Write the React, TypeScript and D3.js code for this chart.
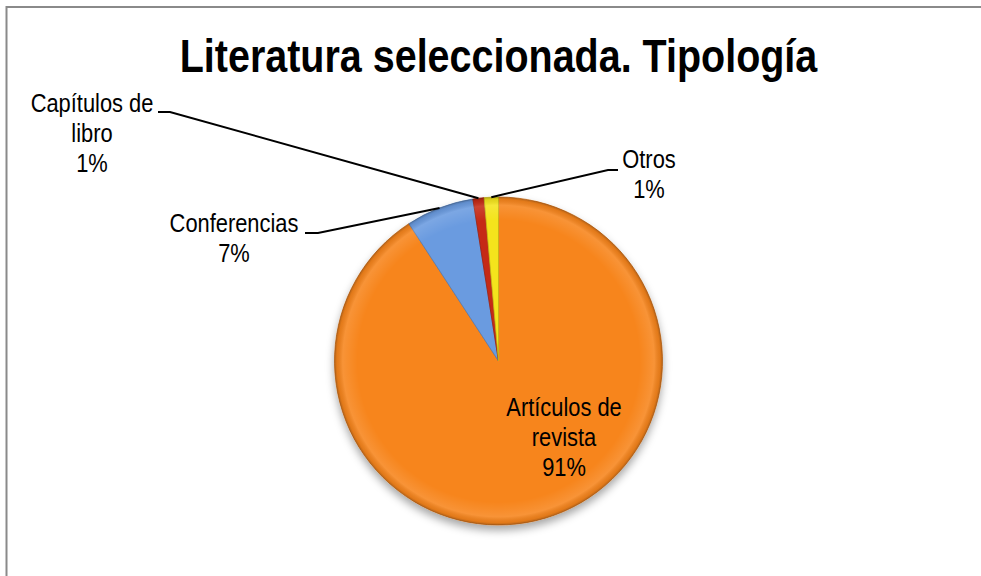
import React from "react";
import * as d3 from "d3";

const categories = ["Artículos de revista", "Conferencias", "Capítulos de libro", "Otros"];
const values = [90.8, 6.7, 1.1, 1.4];
const labelLines = [["Artículos de", "revista"], ["Conferencias"], ["Capítulos de", "libro"], ["Otros"]];
const colors = ["#F7851F", "#6A9BE0", "#C52A16", "#F4E41C"];
const title = "Literatura seleccionada. Tipología";

const W = 981, H = 576;
const cx = 498.5, cy = 361, R = 164;
const FONT = "'Liberation Sans', Arial, sans-serif";
const LH = 30;
const TITLE_SX = 0.84;
const LABEL_SX = 0.875;

// label layout (text center x, first baseline y, leader start x/y, elbow x)
const labelLayout = [
  { x: 564, y: 416, inside: true },
  { x: 234, y: 232, lx: 305, ly: 233, ex: 318 },
  { x: 92, y: 112, lx: 158, ly: 112, ex: 170 },
  { x: 649, y: 168, lx: 618, ly: 170, ex: 608 },
];

export default function App() {
  const pie = d3.pie<number>().sort(null).value((d) => d).startAngle(0).endAngle(2 * Math.PI);
  const arcs = pie(values);
  const arc = d3.arc<d3.PieArcDatum<number>>().innerRadius(0).outerRadius(R);
  const total = d3.sum(values);
  const fmt = (v: number) => `${Math.round((v / total) * 100)}%`;

  return (
    <svg width={W} height={H} style={{ position: "absolute", left: 0, top: 0, background: "#fff" }}>
      <defs>
        <filter id="shadow" x="-20%" y="-20%" width="140%" height="150%">
          <feDropShadow dx="0" dy="5" stdDeviation="4" floodColor="#000" floodOpacity="0.35" />
        </filter>
        <radialGradient id="bevel" cx="0" cy="0" r={R} gradientUnits="userSpaceOnUse">
          <stop offset="0.86" stopColor="#fff" stopOpacity="0" />
          <stop offset="0.95" stopColor="#fff" stopOpacity="0.12" />
          <stop offset="0.985" stopColor="#000" stopOpacity="0.08" />
          <stop offset="1" stopColor="#000" stopOpacity="0.25" />
        </radialGradient>
      </defs>
      <rect x={6.5} y={7} width={1000} height={620} fill="none" stroke="#8a8a8a" strokeWidth={2} />
      <g transform={`translate(${cx},72) scale(${TITLE_SX},1)`}>
        <text x={0} y={0} textAnchor="middle" fontFamily={FONT} fontWeight="bold" fontSize={47} fill="#000">
          {title}
        </text>
      </g>
      <g transform={`translate(${cx},${cy})`}>
        <g filter="url(#shadow)">
          {arcs.map((a, i) => (
            <path key={categories[i]} d={arc(a) || ""} fill={colors[i]} stroke={d3.color(colors[i])!.darker(0.6).toString()} strokeWidth={0.8} strokeLinejoin="round" />
          ))}
        </g>
        {arcs.map((a, i) => (
          <path key={"b" + i} d={arc(a) || ""} fill="url(#bevel)" />
        ))}
      </g>
      {arcs.map((a, i) => {
        const L = labelLayout[i];
        const mid = (a.startAngle + a.endAngle) / 2;
        const px = cx + R * Math.sin(mid);
        const py = cy - R * Math.cos(mid);
        const lines = [...labelLines[i], fmt(values[i])];
        return (
          <g key={"l" + i}>
            {!L.inside && (
              <polyline
                points={`${L.lx},${L.ly} ${L.ex},${L.ly} ${px},${py}`}
                fill="none"
                stroke="#000"
                strokeWidth={2}
              />
            )}
            <g transform={`translate(${L.x},${L.y}) scale(${LABEL_SX},1)`}>
              <text textAnchor="middle" fontFamily={FONT} fontSize={25} fill="#000">
                {lines.map((t, j) => (
                  <tspan key={j} x={0} y={j * LH}>
                    {t}
                  </tspan>
                ))}
              </text>
            </g>
          </g>
        );
      })}
    </svg>
  );
}
